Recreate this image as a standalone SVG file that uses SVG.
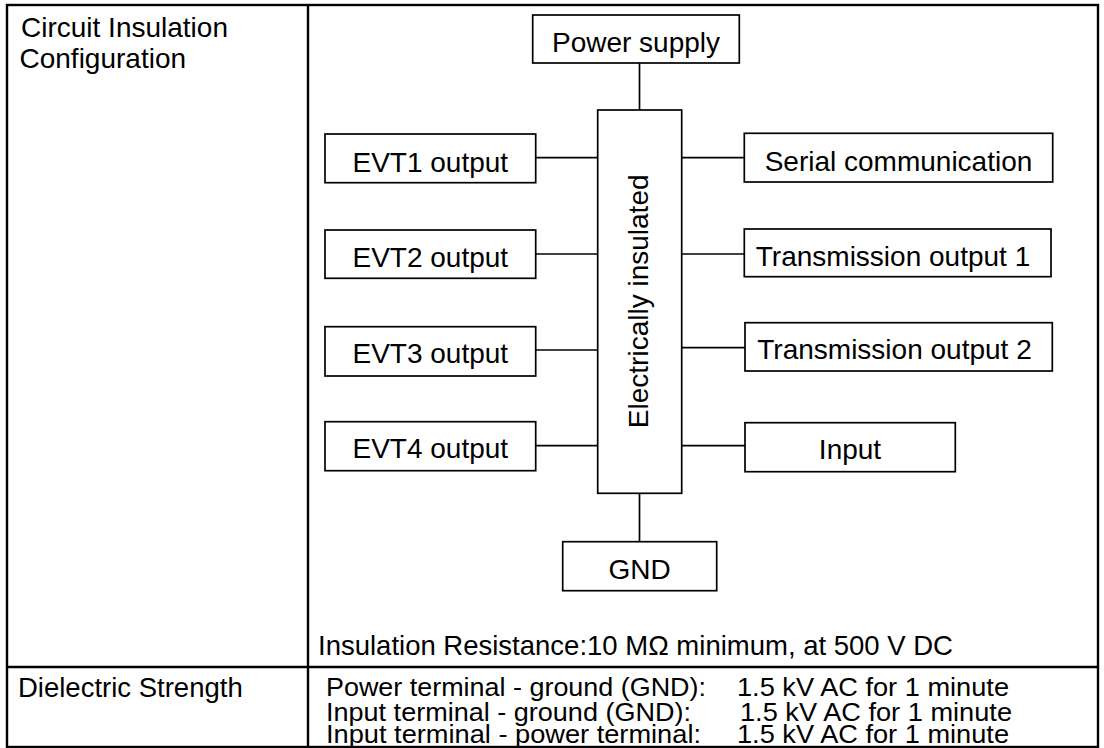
<svg xmlns="http://www.w3.org/2000/svg" width="1104" height="748" viewBox="0 0 1104 748">
<style>
  text { font-family: "Liberation Sans", Arial, sans-serif; font-size: 28px; fill: #000; }
  .c { text-anchor: middle; }
  .s { font-size: 27.5px; }
  .r { font-size: 25.5px; }
  .box { fill: #fff; stroke: #000; stroke-width: 1.7; }
  .wire { stroke: #000; stroke-width: 1.7; fill: none; }
  .tbl { stroke: #000; stroke-width: 2.4; fill: none; }
</style>
<rect x="0" y="0" width="1104" height="748" fill="#fff"/>
<g id="table">
  <rect class="tbl" x="7" y="5" width="1091" height="742"/>
  <line class="tbl" x1="308" y1="5" x2="308" y2="747"/>
  <line class="tbl" x1="7" y1="667" x2="1098" y2="667"/>
  <text x="21" y="36.7">Circuit Insulation</text>
  <text x="19.5" y="68.3">Configuration</text>
  <text class="s" x="318" y="655">Insulation Resistance:10 MΩ  minimum, at 500 V DC</text>
  <text class="s" x="18" y="697">Dielectric Strength</text>
  <text class="r" x="326" y="696" textLength="380" lengthAdjust="spacingAndGlyphs">Power terminal - ground (GND):</text>
  <text class="r" x="737" y="696" textLength="272" lengthAdjust="spacingAndGlyphs">1.5 kV AC for 1 minute</text>
  <text class="r" x="326" y="720.5" textLength="365" lengthAdjust="spacingAndGlyphs">Input terminal - ground (GND):</text>
  <text class="r" x="740" y="720.5" textLength="272" lengthAdjust="spacingAndGlyphs">1.5 kV AC for 1 minute</text>
  <text class="r" x="326" y="742.5" textLength="375" lengthAdjust="spacingAndGlyphs">Input terminal - power terminal:</text>
  <text class="r" x="737" y="742.5" textLength="272" lengthAdjust="spacingAndGlyphs">1.5 kV AC for 1 minute</text>
</g>
<g id="connectors">
  <line class="wire" x1="639.5" y1="63" x2="639.5" y2="110"/>
  <line class="wire" x1="639.5" y1="493.3" x2="639.5" y2="541.7"/>
  <line class="wire" x1="535.7" y1="157.7" x2="597.7" y2="157.7"/>
  <line class="wire" x1="535.7" y1="254" x2="597.7" y2="254"/>
  <line class="wire" x1="535.7" y1="350" x2="597.7" y2="350"/>
  <line class="wire" x1="535.7" y1="445.7" x2="597.7" y2="445.7"/>
  <line class="wire" x1="681.7" y1="157.7" x2="744.3" y2="157.7"/>
  <line class="wire" x1="681.7" y1="254" x2="744.3" y2="254"/>
  <line class="wire" x1="681.7" y1="347.7" x2="745" y2="347.7"/>
  <line class="wire" x1="681.7" y1="445.7" x2="745" y2="445.7"/>
</g>
<g id="power-supply">
  <rect class="box" x="532.7" y="15" width="206.6" height="48"/>
  <text class="c" x="636" y="52.3">Power supply</text>
</g>
<g id="isolation">
  <rect class="box" x="597.7" y="110" width="84" height="383.3"/>
  <text class="c" transform="translate(648.3 301.3) rotate(-90)">Electrically insulated</text>
</g>
<g id="evt1">
  <rect class="box" x="325" y="134" width="210.7" height="48.7"/>
  <text class="c" x="430.3" y="171.7">EVT1 output</text>
</g>
<g id="evt2">
  <rect class="box" x="325" y="230" width="210.7" height="48.3"/>
  <text class="c" x="430.3" y="266.7">EVT2 output</text>
</g>
<g id="evt3">
  <rect class="box" x="325" y="326.7" width="210.7" height="49.3"/>
  <text class="c" x="430.3" y="363.3">EVT3 output</text>
</g>
<g id="evt4">
  <rect class="box" x="325" y="421.7" width="210.7" height="49"/>
  <text class="c" x="430.3" y="458.3">EVT4 output</text>
</g>
<g id="serial">
  <rect class="box" x="744.3" y="133.3" width="308.4" height="48.7"/>
  <text class="c" x="898.5" y="171">Serial communication</text>
</g>
<g id="trans1">
  <rect class="box" x="744.3" y="229" width="306.7" height="47.7"/>
  <text class="c" x="893" y="265.7">Transmission output 1</text>
</g>
<g id="trans2">
  <rect class="box" x="745" y="322.7" width="307.3" height="48.3"/>
  <text class="c" x="894.5" y="359.3">Transmission output 2</text>
</g>
<g id="input">
  <rect class="box" x="745" y="422.7" width="210.3" height="49"/>
  <text class="c" x="850" y="459.3">Input</text>
</g>
<g id="gnd">
  <rect class="box" x="562.7" y="541.7" width="154" height="49"/>
  <text class="c" x="639.7" y="579.3">GND</text>
</g>
</svg>
